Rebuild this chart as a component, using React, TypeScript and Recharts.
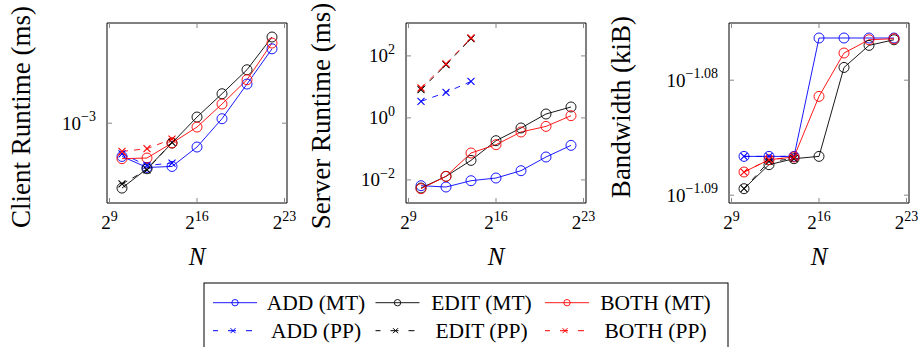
import React from "react";
import { LineChart, Line, XAxis, YAxis, ReferenceArea } from "recharts";

// N = 2^10 .. 2^22
const N = [1024, 4096, 16384, 65536, 262144, 1048576, 4194304];
const X_TICKS = [2 ** 9, 2 ** 16, 2 ** 23];

// client runtime (ms)
const CLIENT_ADD_MT = [5.79e-4, 4.83e-4, 4.91e-4, 6.76e-4, 1.077e-3, 1.905e-3, 3.4e-3];
const CLIENT_EDIT_MT = [3.44e-4, 4.73e-4, 7.22e-4, 1.107e-3, 1.624e-3, 2.41e-3, 4.13e-3];
const CLIENT_BOTH_MT = [5.58e-4, 5.64e-4, 7.22e-4, 9.39e-4, 1.371e-3, 2.045e-3, 3.74e-3];
const CLIENT_ADD_PP = [6.05e-4, 4.99e-4, 5.19e-4];
const CLIENT_EDIT_PP = [3.68e-4, 4.65e-4, 7.29e-4];
const CLIENT_BOTH_PP = [6.29e-4, 6.58e-4, 7.71e-4];

// server runtime (ms)
const SERVER_ADD_MT = [6.5e-3, 5.9e-3, 9.42e-3, 1.15e-2, 1.98e-2, 5.48e-2, 0.13];
const SERVER_EDIT_MT = [5.48e-3, 1.3e-2, 4.26e-2, 0.184, 0.472, 1.336, 2.247];
const SERVER_BOTH_MT = [5.2e-3, 1.3e-2, 7.38e-2, 0.1366, 0.351, 0.532, 1.178];
const SERVER_ADD_PP = [3.41, 6.65, 15.0];
const SERVER_EDIT_PP = [8.12, 52, 360];
const SERVER_BOTH_PP = [9.21, 55, 380];

// bandwidth (kiB)
const BW_ADD_MT = [0.081917, 0.081917, 0.081917, 0.083882, 0.083882, 0.083882, 0.083882];
const BW_EDIT_MT = [0.081389, 0.081781, 0.081879, 0.081917, 0.083389, 0.083758, 0.083853];
const BW_BOTH_MT = [0.081661, 0.081862, 0.081907, 0.082907, 0.08363, 0.083853, 0.08387];
const BW_ADD_PP = [0.081917, 0.081917, 0.081917];
const BW_EDIT_PP = [0.081389, 0.081835, 0.081879];
const BW_BOTH_PP = [0.081661, 0.081862, 0.081907];

const FONT = "Liberation Serif, DejaVu Serif, serif";
const BLUE = "#0000ff";
const RED = "#ff0000";
const BLACK = "#000000";

const PLOT = 180;
const TOP = 23;
const RIGHT_M = 10;
const X_AXIS_H = 80;
const X_DOMAIN = [2 ** 8.8, 2 ** 23.2];

const rows = (a: number[], e: number[], b: number[], ap: number[], ep: number[], bp: number[]) =>
  N.map((n, i) => ({ n, addMT: a[i], editMT: e[i], bothMT: b[i], addPP: ap[i], editPP: ep[i], bothPP: bp[i] }));

const minus = (s: string) => s.replace("-", "\u2212");

const crossDot = (color: string) => (p: any) => {
  const { cx, cy, index } = p;
  if (!Number.isFinite(cx) || !Number.isFinite(cy)) return <g key={index} />;
  const s = 3.5;
  return (
    <path
      key={index}
      d={`M${cx - s},${cy - s}L${cx + s},${cy + s}M${cx - s},${cy + s}L${cx + s},${cy - s}`}
      stroke={color}
      strokeWidth={1.1}
      fill="none"
    />
  );
};

const circleDot = (color: string) => ({ r: 5, fill: "none", stroke: color, strokeWidth: 0.9 });

function Panel(props: {
  left: number;
  yw: number;
  title: string;
  titleX: number;
  titleY: number;
  data: any[];
  yDomain: number[];
  yTicks: number[];
  frac: boolean;
}) {
  const { left, yw, title, titleX, titleY, data, yDomain, yTicks, frac } = props;
  const w = yw + PLOT + RIGHT_M;
  const h = TOP + PLOT + X_AXIS_H;
  const pl = yw;
  const pr = yw + PLOT;
  const pt = TOP;
  const pb = TOP + PLOT;

  const xTick = (p: any) => {
    const x = p.x;
    const e = Math.round(Math.log2(p.payload.value));
    return (
      <g>
        <line x1={x} x2={x} y1={pb} y2={pb - 5} stroke="#888" />
        <line x1={x} x2={x} y1={pt} y2={pt + 5} stroke="#888" />
        <text x={x} y={pb + 26} textAnchor="middle" style={{ fontFamily: FONT }} fontSize={19} fill="#000">
          2<tspan dy={-8.5} fontSize={14}>{e}</tspan>
        </text>
      </g>
    );
  };

  const yTick = (p: any) => {
    const y = p.y;
    const lg = Math.log10(p.payload.value);
    const label = frac ? lg.toFixed(2) : String(Math.round(lg));
    return (
      <g>
        <line x1={pl} x2={pl + 5} y1={y} y2={y} stroke="#888" />
        <line x1={pr} x2={pr - 5} y1={y} y2={y} stroke="#888" />
        <text x={pl - 11} y={y + 6.5} textAnchor="end" style={{ fontFamily: FONT }} fontSize={19} fill="#000">
          10<tspan dy={-8.5} fontSize={14}>{minus(label)}</tspan>
        </text>
      </g>
    );
  };

  return (
    <div style={{ position: "absolute", left, top: 0 }}>
      <LineChart width={w} height={h} data={data} margin={{ top: TOP, right: RIGHT_M, bottom: 0, left: 0 }}>
        <XAxis
          dataKey="n"
          type="number"
          scale="log"
          domain={X_DOMAIN}
          allowDataOverflow
          ticks={X_TICKS}
          interval={0}
          height={X_AXIS_H}
          axisLine={false}
          tickLine={false}
          tick={xTick}
          label={() => (
            <text x={(pl + pr) / 2} y={pb + 62} textAnchor="middle" style={{ fontFamily: FONT }} fontStyle="italic" fontSize={25} fill="#000">
              N
            </text>
          )}
        />
        <YAxis
          type="number"
          scale="log"
          domain={yDomain}
          allowDataOverflow
          ticks={yTicks}
          interval={0}
          width={yw}
          axisLine={false}
          tickLine={false}
          tick={yTick}
          label={() => (
            <text
              x={titleX}
              y={titleY}
              transform={`rotate(-90, ${titleX}, ${titleY})`}
              textAnchor="middle"
              style={{ fontFamily: FONT }}
              fontSize={27}
              fill="#000"
            >
              {title}
            </text>
          )}
        />
        <ReferenceArea x1={X_DOMAIN[0]} x2={X_DOMAIN[1]} y1={yDomain[0]} y2={yDomain[1]} fill="none" stroke="#000" strokeWidth={1} />
        <Line dataKey="addMT" stroke={BLUE} strokeWidth={0.9} dot={circleDot(BLUE)} activeDot={false} isAnimationActive={false} />
        <Line dataKey="editMT" stroke={BLACK} strokeWidth={0.9} dot={circleDot(BLACK)} activeDot={false} isAnimationActive={false} />
        <Line dataKey="bothMT" stroke={RED} strokeWidth={0.9} dot={circleDot(RED)} activeDot={false} isAnimationActive={false} />
        <Line dataKey="addPP" stroke={BLUE} strokeWidth={0.9} strokeDasharray="6 6" dot={crossDot(BLUE)} activeDot={false} isAnimationActive={false} />
        <Line dataKey="editPP" stroke={BLACK} strokeWidth={0.9} strokeDasharray="6 6" dot={crossDot(BLACK)} activeDot={false} isAnimationActive={false} />
        <Line dataKey="bothPP" stroke={RED} strokeWidth={0.9} strokeDasharray="6 6" dot={crossDot(RED)} activeDot={false} isAnimationActive={false} />
      </LineChart>
    </div>
  );
}

const LEGEND_MT = [
  { label: "ADD (MT)", color: BLUE },
  { label: "EDIT (MT)", color: BLACK },
  { label: "BOTH (MT)", color: RED },
];
const LEGEND_PP = [
  { label: "ADD (PP)", color: BLUE },
  { label: "EDIT (PP)", color: BLACK },
  { label: "BOTH (PP)", color: RED },
];

function LegendBox() {
  // column sample centers / text centers, relative to svg left (190)
  const sample = [45, 207.5, 377];
  const textC = [126, 291.5, 465.5];
  const r1 = 27.7;
  const r2 = 55.7;
  return (
    <svg width={560} height={72} style={{ position: "absolute", left: 190, top: 275, fontFamily: FONT }}>
      <rect x={14} y={8} width={524} height={120} fill="#fff" stroke="#000" strokeWidth={1} />
      {LEGEND_MT.map((d, i) => (
        <g key={d.label}>
          <line x1={sample[i] - 22} x2={sample[i] + 22} y1={r1} y2={r1} stroke={d.color} strokeWidth={0.9} />
          <circle cx={sample[i]} cy={r1} r={3.2} fill="none" stroke={d.color} strokeWidth={0.9} />
          <text x={textC[i]} y={r1 + 7} textAnchor="middle" style={{ fontFamily: FONT }} fontSize={21.5} fill="#000">
            {d.label}
          </text>
        </g>
      ))}
      {LEGEND_PP.map((d, i) => {
        const c = sample[i] - 2;
        return (
          <g key={d.label}>
            <line x1={c - 20} x2={c - 15} y1={r2} y2={r2} stroke={d.color} strokeWidth={1} />
            <line x1={c - 5} x2={c + 3} y1={r2} y2={r2} stroke={d.color} strokeWidth={1} />
            <path d={`M${c - 2.5},${r2 - 2.5}L${c + 2.5},${r2 + 2.5}M${c - 2.5},${r2 + 2.5}L${c + 2.5},${r2 - 2.5}`} stroke={d.color} strokeWidth={1} />
            <line x1={c + 13} x2={c + 19} y1={r2} y2={r2} stroke={d.color} strokeWidth={1} />
            <text x={textC[i]} y={r2 + 7} textAnchor="middle" style={{ fontFamily: FONT }} fontSize={21.5} fill="#000">
              {d.label}
            </text>
          </g>
        );
      })}
    </svg>
  );
}

export default function App() {
  return (
    <div style={{ position: "absolute", left: 0, top: 0, width: 922, height: 347, background: "#fff", overflow: "hidden", fontFamily: FONT }}>
      <Panel
        left={0}
        yw={107}
        title="Client Runtime (ms)"
        titleX={30}
        titleY={117}
        data={rows(CLIENT_ADD_MT, CLIENT_EDIT_MT, CLIENT_BOTH_MT, CLIENT_ADD_PP, CLIENT_EDIT_PP, CLIENT_BOTH_PP)}
        yDomain={[10 ** -3.57, 10 ** -2.284]}
        yTicks={[1e-3]}
        frac={false}
      />
      <Panel
        left={299}
        yw={107}
        title="Server Runtime (ms)"
        titleX={31}
        titleY={116}
        data={rows(SERVER_ADD_MT, SERVER_EDIT_MT, SERVER_BOTH_MT, SERVER_ADD_PP, SERVER_EDIT_PP, SERVER_BOTH_PP)}
        yDomain={[10 ** -2.745, 10 ** 3.061]}
        yTicks={[1e-2, 1, 100]}
        frac={false}
      />
      <Panel
        left={600}
        yw={129}
        title="Bandwidth (kiB)"
        titleX={30}
        titleY={107}
        data={rows(BW_ADD_MT, BW_EDIT_MT, BW_BOTH_MT, BW_ADD_PP, BW_EDIT_PP, BW_BOTH_PP)}
        yDomain={[10 ** -1.09068, 10 ** -1.075026]}
        yTicks={[10 ** -1.09, 10 ** -1.08]}
        frac={true}
      />
      <LegendBox />
    </div>
  );
}
